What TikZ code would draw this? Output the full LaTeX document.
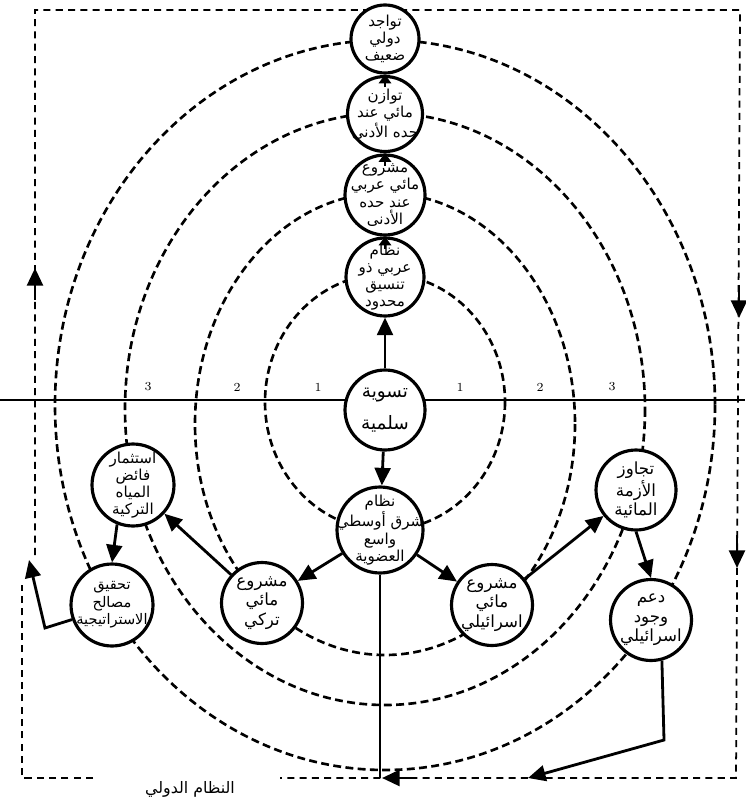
\documentclass[tikz,border=0pt]{standalone}
\usepackage{fontspec}
\usetikzlibrary{arrows.meta}
\newfontfamily\arabicfont[Script=Arabic]{DejaVu Sans}
\TeXXeTstate=1
\tikzset{
  stage/.style={circle,draw,line width=1.8pt,fill=white,minimum size=1.6cm,inner sep=0pt},
  words/.style={inner sep=0pt,align=center,font=\arabicfont\fontsize{9.5}{11}\selectfont},
  tight/.style={words,font=\arabicfont\fontsize{8.6}{9.8}\selectfont},
  ring/.style={line width=1.5pt,dash pattern=on 4.5pt off 2.5pt},
  frame/.style={line width=1pt,dash pattern=on 4pt off 3pt},
  flow/.style={line width=1.6pt,-{Triangle[length=10pt,width=9pt]}},
  shortflow/.style={line width=1.6pt,-{Triangle[length=5pt,width=7pt]}}
}

\begin{document}
\begin{tikzpicture}[x=0.02cm,y=-0.02cm]
\useasboundingbox (0,0) rectangle (745,803);
% international system frame
\draw[frame] (35,555) -- (35,10) -- (740,10) -- (736,778) -- (280,778);
\draw[frame] (93,778) -- (22,778) -- (22,585);
\draw[flow] (35,300) -- (35,268);
\draw[flow] (739,285) -- (739,318);
\draw[flow] (737,535) -- (737,568);
\draw[flow] (412,778) -- (382,778);
\node[font=\arabicfont\fontsize{9}{10}\selectfont] (intl) at (190,789) {\beginR النظام الدولي\endR};
% axis and rings
\draw[line width=1.6pt] (0,400) -- (745,400);
\foreach \a/\c/\b in {120/402/128,190/424/231,260/409/296,330/405/365}
  \draw[ring] (385,\c) ellipse [x radius=\a, y radius=\b];
\foreach \x/\n [count=\i] in {148/3,237/2,318/1,460/1,540/2,612/3}
  \node[font=\scriptsize] (num\i) at (\x,387) {\n};
% upper chain
\node[stage,minimum size=1.36cm,label={[tight]center:{\beginR تواجد\endR\\\beginR دولي\endR\\\beginR ضعيف\endR}}] (presence) at (385,39) {};
\node[stage,minimum size=1.5cm,label={[tight]center:{\beginR توازن\endR\\\beginR مائي عند\endR\\\beginR حده الأدنى\endR}}] (balance) at (385,114) {};
\node[stage,minimum size=1.6cm,label={[tight]center:{\beginR مشروع\endR\\\beginR مائي عربي\endR\\\beginR عند حده\endR\\\beginR الأدنى\endR}}] (arabproj) at (385,195) {};
\node[stage,minimum size=1.56cm,label={[tight]center:{\beginR نظام\endR\\\beginR عربي ذو\endR\\\beginR تنسيق\endR\\\beginR محدود\endR}}] (arabsys) at (385,277) {};
\node[stage,label={[words,font=\arabicfont\fontsize{10.5}{12}\selectfont]center:{\beginR تسوية\endR\\[6pt]\beginR سلمية\endR}}] (settlement) at (385,410) {};
% lower part
\node[stage,minimum size=1.72cm,label={[tight]center:{\beginR نظام\endR\\\beginR شرق أوسطي\endR\\\beginR واسع\endR\\\beginR العضوية\endR}}] (mesys) at (380,530) {};
\node[stage,minimum size=1.64cm,label={[tight]center:{\beginR استثمار\endR\\\beginR فائض\endR\\\beginR المياه\endR\\\beginR التركية\endR}}] (surplus) at (133,485) {};
\node[stage,minimum size=1.64cm,label={[tight,font=\arabicfont\fontsize{8.3}{10}\selectfont]center:{\beginR تحقيق\endR\\\beginR مصالح\endR\\\beginR الاستراتيجية\endR}}] (interests) at (112,605) {};
\node[stage,minimum size=1.62cm,label={[words]center:{\beginR مشروع\endR\\\beginR مائي\endR\\\beginR تركي\endR}}] (turkproj) at (262,603) {};
\node[stage,minimum size=1.62cm,label={[words]center:{\beginR مشروع\endR\\\beginR مائي\endR\\\beginR اسرائيلي\endR}}] (israproj) at (492,605) {};
\node[stage,label={[words]center:{\beginR تجاوز\endR\\\beginR الأزمة\endR\\\beginR المائية\endR}}] (crisis) at (636,490) {};
\node[stage,minimum size=1.62cm,label={[words]center:{\beginR دعم\endR\\\beginR وجود\endR\\\beginR اسرائيلي\endR}}] (support) at (651,620) {};
% connectors
\draw[flow] (settlement) -- (arabsys);
\draw[shortflow] ([yshift=-7pt]arabsys.north) -- (arabproj.south);
\draw[shortflow] ([yshift=-7pt]arabproj.north) -- (balance.south);
\draw[shortflow] ([yshift=-7pt]balance.north) -- (presence.south);
\draw[flow] (settlement) -- (mesys);
\draw[flow] (mesys) -- (turkproj);
\draw[flow] (mesys) -- (israproj);
\draw[flow] (turkproj) -- (surplus);
\draw[flow] (surplus.-112) -- (interests.north);
\draw[flow] (israproj) -- (crisis);
\draw[flow] (crisis.south) -- (support.north);
\draw[flow] (interests.200) -- (45,628) -- (29,560);
\draw[line width=1.6pt] (mesys.south) -- (380,778);
\draw[flow] (support.-75) -- (664,740) -- (528,778);
\end{tikzpicture}
\end{document}
